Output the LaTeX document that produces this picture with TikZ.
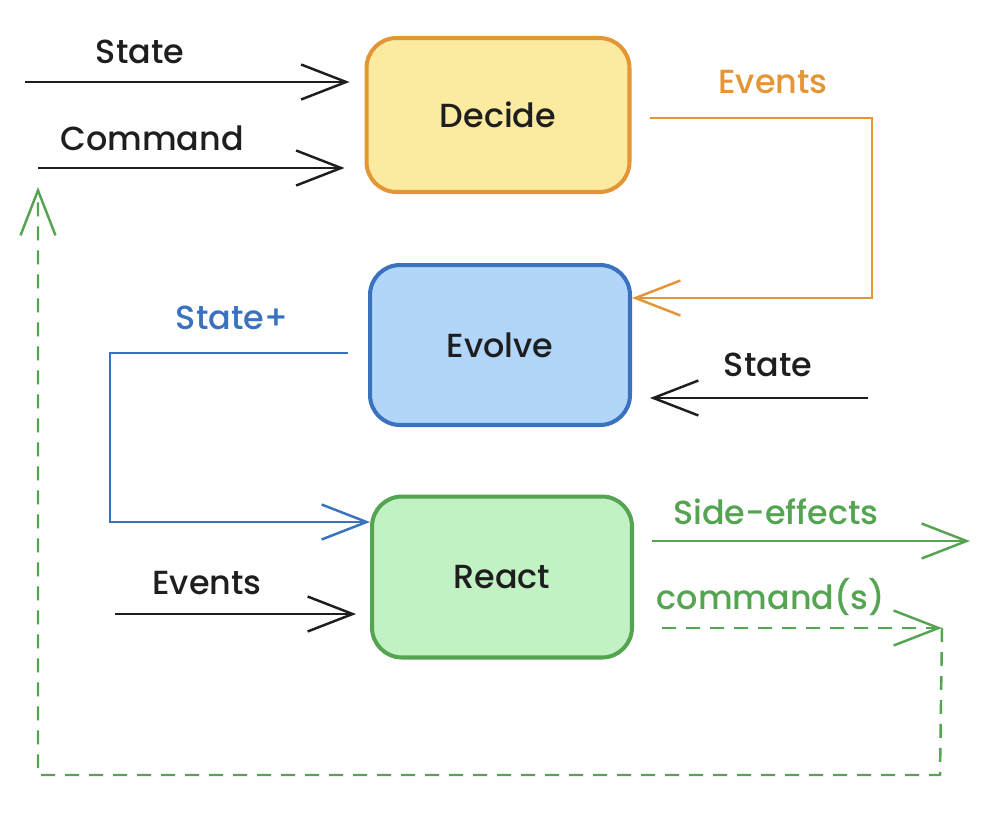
\documentclass[tikz,border=0pt]{standalone}
\usepackage{fontspec}
\setmainfont{Poppins}[UprightFont=* Medium]
\usetikzlibrary{arrows.meta}
\definecolor{inkc}{HTML}{1E1E1E}
\definecolor{orangec}{HTML}{E49535}
\definecolor{orangef}{HTML}{FBEBA0}
\definecolor{bluec}{HTML}{3A72BF}
\definecolor{bluef}{HTML}{B1D6FA}
\definecolor{greenc}{HTML}{55A452}
\definecolor{greenf}{HTML}{C2F1C4}
\begin{document}
\begin{tikzpicture}[x=0.02cm,y=-0.02cm]
			\tikzset{
				box/.style={draw,line width=2.3pt,rounded corners=0.6cm,text=inkc,
					font=\fontsize{19}{23}\selectfont},
				lbl/.style={font=\fontsize{19}{23}\selectfont,text=inkc},
				arr/.style={line width=1.4pt,draw=inkc,-{Straight Barb[length=0.9cm,width=0.7cm,line width=1.4pt]}},
				loop/.style={dashed,dash pattern=on 0.28cm off 0.2cm}
			}
			\useasboundingbox (0,0) rectangle (1000,832);
			% boxes
			\node[box,draw=orangec,fill=orangef,minimum width=5.26cm,minimum height=3.08cm] (decide) at (498,115) {Decide};
			\node[box,draw=bluec,fill=bluef,minimum width=5.2cm,minimum height=3.2cm] (evolve) at (500,345) {Evolve};
			\node[box,draw=greenc,fill=greenf,minimum width=5.2cm,minimum height=3.22cm] (react) at (502,577) {React};
			% free ends
			\coordinate (stateA) at (25,82);
			\coordinate (cmdA) at (38,168);
			\coordinate (evA) at (872,118);
			\coordinate (evB) at (872,298);
			\coordinate (spA) at (110,353);
			\coordinate (spB) at (110,522);
			\coordinate (stateB) at (868,398);
			\coordinate (evC) at (115,614);
			\coordinate (side) at (970,541);
			\coordinate (cmdB) at (942,628);
			\coordinate (loopA) at (940,775);
			\coordinate (loopB) at (38,775);
			\coordinate (loopC) at (38,187);
			% connectors
			\draw[arr,shorten >=0.3cm] (stateA) -- (stateA -| decide.west);
			\draw[arr,shorten >=0.4cm] (cmdA) -- (cmdA -| decide.west);
			\draw[arr,draw=orangec,shorten <=0.36cm] (decide.east |- evA) -- (evA) -- (evB) -- (evolve.east |- evB);
			\draw[arr,draw=bluec,shorten <=0.4cm] (evolve.west |- spA) -- (spA) -- (spB) -- (react.west |- spB);
			\draw[arr,shorten >=0.36cm] (stateB) -- (stateB -| evolve.east);
			\draw[arr,shorten >=0.28cm] (evC) -- (evC -| react.west);
			\draw[arr,draw=greenc,shorten <=0.36cm] (react.east |- side) -- (side);
			\draw[arr,draw=greenc,loop,shorten <=0.56cm] (react.east |- cmdB) -- (cmdB);
			\draw[arr,draw=greenc,loop] (cmdB) -- (loopA) -- (loopB) -- (loopC);
			% labels
			\node[lbl] (lstateA) at (140,52) {State};
			\node[lbl] (lcmdA) at (152,138) {Command};
			\node[lbl,text=orangec] (levA) at (773,82) {Events};
			\node[lbl,text=bluec] (lsp) at (232,318) {State+};
			\node[lbl] (lstateB) at (768,365) {State};
			\node[lbl] (levC) at (207,583) {Events};
			\node[lbl,text=greenc] (lside) at (776,512) {Side-effects};
			\node[lbl,text=greenc] (lcmdB) at (771,597) {command(s)};
		\end{tikzpicture}
\end{document}
